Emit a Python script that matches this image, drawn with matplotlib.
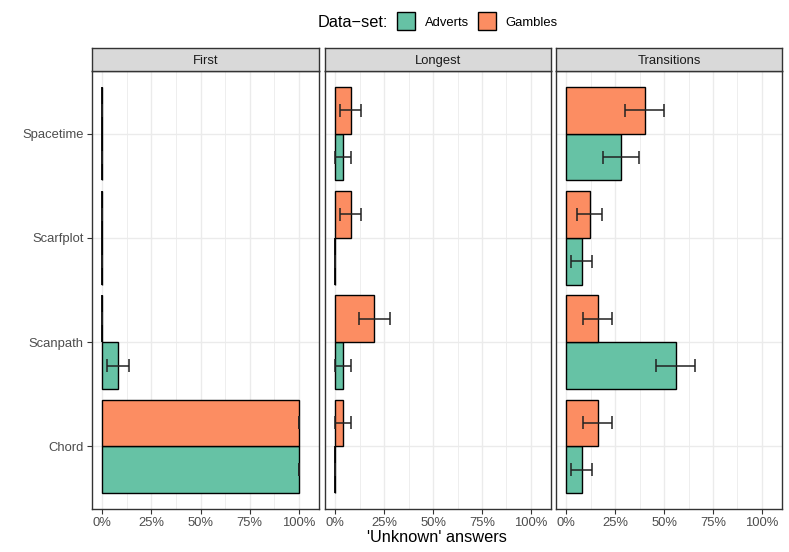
import matplotlib
matplotlib.use('Agg')
import matplotlib.pyplot as plt
import matplotlib.ticker as ticker
from matplotlib.patches import Rectangle
import numpy as np

plt.rcParams['font.family'] = ['Liberation Sans', 'DejaVu Sans']

# data
methods = ['Chord', 'Scanpath', 'Scarfplot', 'Spacetime']
facets = ['First', 'Longest', 'Transitions']
datasets = ['Adverts', 'Gambles']
colors = {'Adverts': '#66c2a5', 'Gambles': '#fc8d62'}

first_adverts = [1.00, 0.08, 0.00, 0.00]
first_adverts_lo = [1.00, 0.026, 0.00, 0.00]
first_adverts_hi = [1.00, 0.134, 0.00, 0.00]
first_gambles = [1.00, 0.00, 0.00, 0.00]
first_gambles_lo = [1.00, 0.00, 0.00, 0.00]
first_gambles_hi = [1.00, 0.00, 0.00, 0.00]

longest_adverts = [0.00, 0.04, 0.00, 0.04]
longest_adverts_lo = [0.00, 0.001, 0.00, 0.001]
longest_adverts_hi = [0.00, 0.079, 0.00, 0.079]
longest_gambles = [0.04, 0.20, 0.08, 0.08]
longest_gambles_lo = [0.001, 0.12, 0.026, 0.026]
longest_gambles_hi = [0.079, 0.28, 0.134, 0.134]

trans_adverts = [0.08, 0.56, 0.08, 0.28]
trans_adverts_lo = [0.026, 0.461, 0.026, 0.19]
trans_adverts_hi = [0.134, 0.659, 0.134, 0.37]
trans_gambles = [0.16, 0.16, 0.12, 0.40]
trans_gambles_lo = [0.087, 0.087, 0.055, 0.302]
trans_gambles_hi = [0.233, 0.233, 0.185, 0.498]

values = {
    'First': {'Adverts': (first_adverts, first_adverts_lo, first_adverts_hi),
              'Gambles': (first_gambles, first_gambles_lo, first_gambles_hi)},
    'Longest': {'Adverts': (longest_adverts, longest_adverts_lo, longest_adverts_hi),
                'Gambles': (longest_gambles, longest_gambles_lo, longest_gambles_hi)},
    'Transitions': {'Adverts': (trans_adverts, trans_adverts_lo, trans_adverts_hi),
                    'Gambles': (trans_gambles, trans_gambles_lo, trans_gambles_hi)},
}

W, H = 789, 552
DPI = 100


def rect(x0, y0, x1, y1):
    return [x0 / W, 1 - y1 / H, (x1 - x0) / W, (y1 - y0) / H]


fig = plt.figure(figsize=(W / DPI, H / DPI), dpi=DPI)
fig.patch.set_facecolor('white')

panel_x = [(92, 319), (325, 551), (556, 782)]
strip_top, panel_top, panel_bottom = 48, 71, 509
border = '#333333'
grid = '#ebebeb'
ypos = np.arange(1, len(methods) + 1)
bar_h = 0.45
offsets = {'Adverts': -bar_h / 2, 'Gambles': bar_h / 2}

for i, facet in enumerate(facets):
    x0, x1 = panel_x[i]
    ax = fig.add_axes(rect(x0, panel_top, x1, panel_bottom))
    ax.set_xlim(-0.0525, 1.1025)
    ax.set_ylim(0.4, 4.6)
    ax.xaxis.set_major_locator(ticker.FixedLocator([0, 0.25, 0.5, 0.75, 1.0]))
    ax.xaxis.set_minor_locator(ticker.FixedLocator([0.125, 0.375, 0.625, 0.875]))
    ax.xaxis.set_major_formatter(ticker.FuncFormatter(lambda v, p: f'{v * 100:.0f}%'))
    ax.set_yticks(ypos)
    ax.grid(True, which='major', color=grid, lw=1.0, zorder=0)
    ax.grid(True, which='minor', axis='x', color=grid, lw=0.6, zorder=0)
    ax.set_axisbelow(True)
    for s in ax.spines.values():
        s.set_color(border)
        s.set_linewidth(1.0)
    ax.tick_params(axis='both', which='major', length=3.5, width=0.8, color=border,
                   labelsize=9.4, labelcolor='#4d4d4d', pad=2.5)
    ax.tick_params(axis='x', which='minor', length=0)
    if i == 0:
        ax.set_yticklabels(methods)
    else:
        ax.set_yticklabels([])
        ax.tick_params(axis='y', length=0)

    for ds in datasets:
        v, lo, hi = values[facet][ds]
        y = ypos + offsets[ds]
        ax.barh(y, v, height=bar_h, color=colors[ds], edgecolor='black', lw=1.0, zorder=2)
        # zero-width bars still show their outline as a vertical line
        zero = np.array(v) == 0
        ax.vlines(np.array(v)[zero], (y - bar_h / 2)[zero], (y + bar_h / 2)[zero],
                  color='black', lw=1.3, zorder=2)
        ax.hlines(y, lo, hi, color='#222222', lw=1.1, zorder=3)
        ax.vlines(lo, y - 0.0625, y + 0.0625, color='#222222', lw=1.1, zorder=3)
        ax.vlines(hi, y - 0.0625, y + 0.0625, color='#222222', lw=1.1, zorder=3)

    sax = fig.add_axes(rect(x0, strip_top, x1, panel_top))
    sax.set_facecolor('#d9d9d9')
    sax.set_xticks([])
    sax.set_yticks([])
    for s in sax.spines.values():
        s.set_color(border)
        s.set_linewidth(1.0)
    sax.text(0.5, 0.5, facet, ha='center', va='center_baseline', fontsize=9.4, color='#1a1a1a',
             transform=sax.transAxes)

fig.text(437 / W, 1 - 537 / H, "'Unknown' answers", ha='center', va='center', fontsize=11.8)

# legend
ly = 21
fig.text(318 / W, 1 - ly / H, 'Data\u2212set:', ha='left', va='center_baseline', fontsize=11.8)
for ds, bx, tx in [('Adverts', 397, 425), ('Gambles', 478, 505)]:
    fig.patches.append(Rectangle((bx / W, 1 - 30 / H), 18 / W, 18 / H, transform=fig.transFigure,
                                 facecolor=colors[ds], edgecolor='black', lw=1.0))
    fig.text(tx / W, 1 - ly / H, ds, ha='left', va='center_baseline', fontsize=9.4)

fig.savefig('out.png', dpi=DPI)
